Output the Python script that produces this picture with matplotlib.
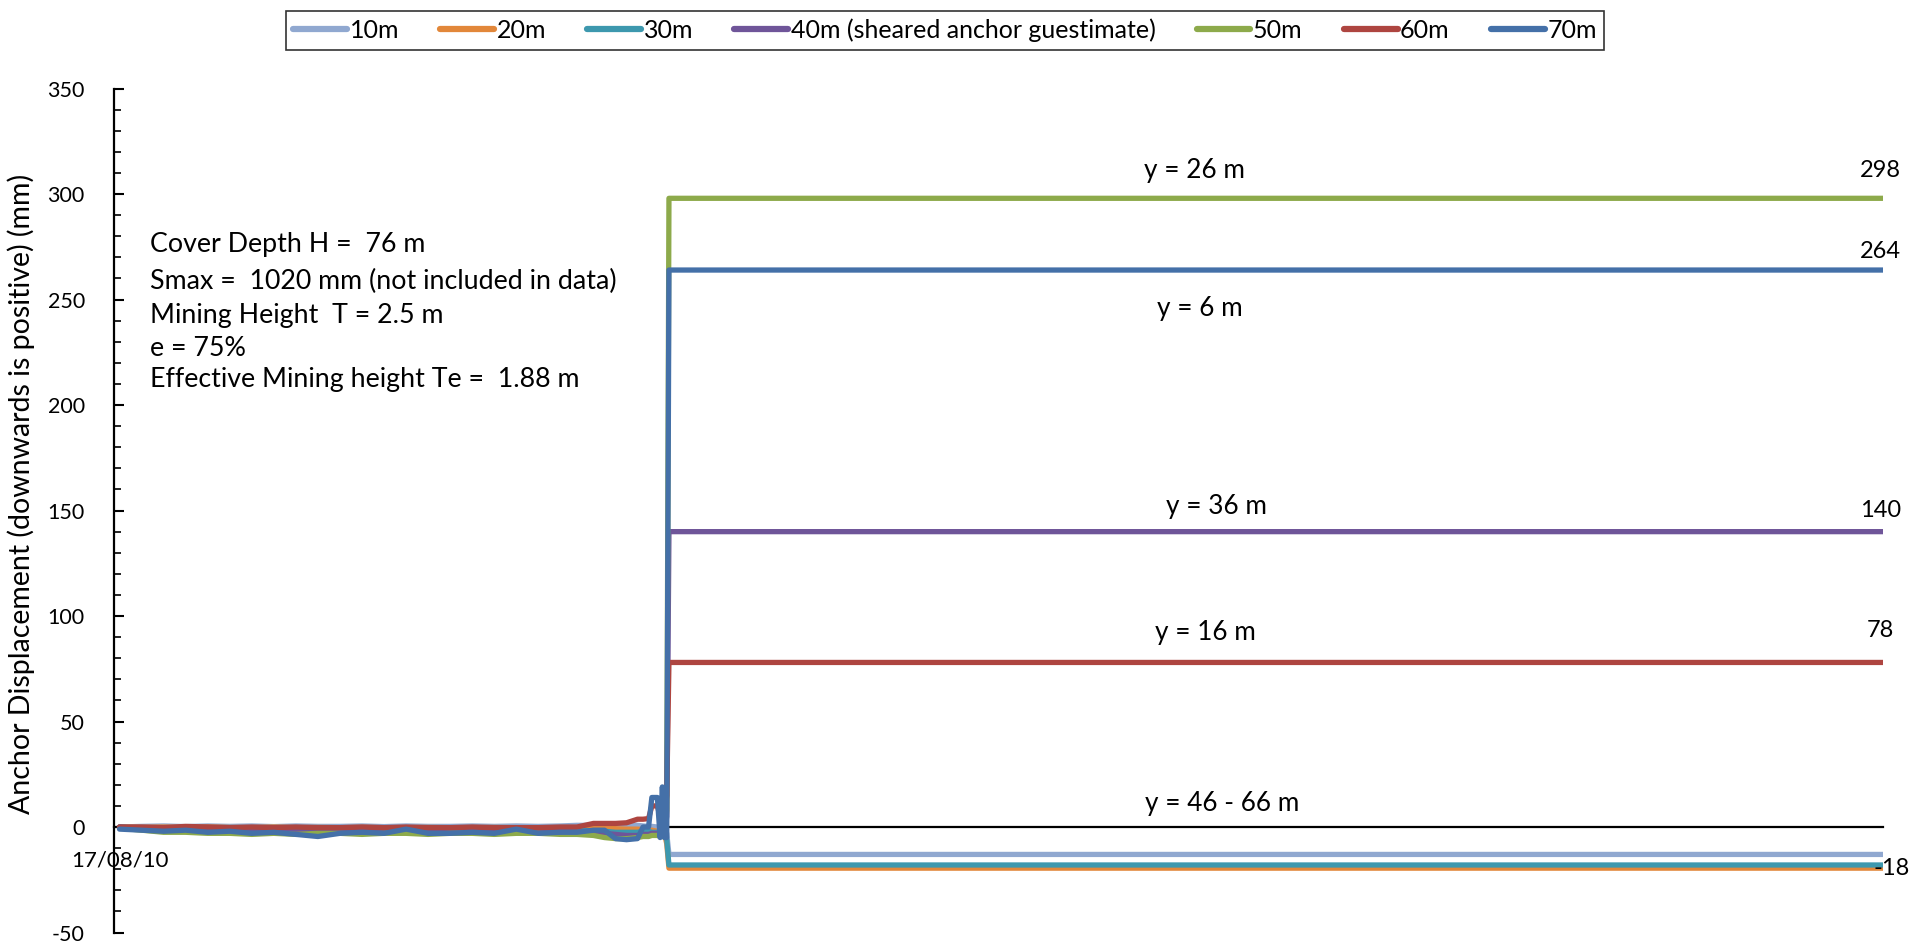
import numpy as np
import matplotlib.pyplot as plt
from matplotlib.ticker import MultipleLocator, FixedLocator

plt.rcParams['font.family'] = ['Lato', 'DejaVu Sans']
plt.rcParams['axes.unicode_minus'] = False

# Ankarförskjutning per djup (mm), dagar från 17/08/10
days_early = [0, 4, 8, 12, 16, 20, 24, 28, 32, 36, 40, 44, 48, 52, 56, 60, 64, 68, 72, 76,
              80, 83, 86, 88, 90, 92, 94, 95, 96, 96.6, 97.6, 98.1, 98.5, 98.9, 99.3]
tail_days = [99.7, 320]

labels = ['10m', '20m', '30m', '40m (sheared anchor guestimate)', '50m', '60m', '70m']
colors = ['#90A8D0', '#E2873A', '#3D98AE', '#6F5599', '#8DAA4B', '#AE4540', '#4470A8']

s10 = [0, 0.3, 0.5, 0.2, 0.5, 0.3, 0.5, 0.2, 0.5, 0.3, 0.3, 0.5, 0.2, 0.5, 0.3, 0.3, 0.5, 0.3, 0.5, 0.3,
       0.5, 0.8, 0.8, 1.0, 0.8, 1.0, 0.8, 0.5, 0.3, 0.3, 0, 0, 0, -1, -3]
s20 = [0, -0.2, 0, -0.3, 0, -0.2, -0.3, 0, -0.3, -0.2, -0.3, -0.2, -0.3, -0.3, -0.2, -0.3, -0.3, -0.2, -0.3, -0.3,
       -0.5, -0.5, -0.3, -0.5, -0.8, -1, -1, -1.2, -1.5, -1.5, -2, -2, -2, -3, -8]
s30 = [0, -0.5, -0.8, -0.5, -1, -0.8, -1, -1.2, -1, -1.2, -1, -1.2, -1, -1.2, -1.2, -1, -1.2, -1.2, -1, -1.2,
       -1.5, -1.5, -1.8, -2, -2.5, -2.5, -2.5, -2, -2, -2.5, -2.5, -3, -3, -3, -6]
s40 = [0, -0.8, -1, -1.2, -1.5, -1.2, -1.5, -1.8, -1.5, -1.8, -1.5, -1.8, -1.5, -1.5, -1.8, -1.5, -1.8, -1.5, -1.8, -1.8,
       -2, -2.5, -2.5, -3, -3.5, -4, -4, -3.5, -3.5, -3, -3, -3, -2.5, -2, 5]
s50 = [-0.5, -1.5, -2.5, -2.5, -3, -3, -3.5, -3, -3.5, -3, -3, -3.5, -3, -3, -3.5, -3, -3, -3.5, -3, -3,
       -3.5, -3.5, -4, -5, -5.5, -5.5, -5, -4.5, -4.5, -4, -4, -4.5, -4, -5, 8]
s60 = [0, 0, -0.3, 0.3, 0, -0.3, 0, -0.3, 0, -0.3, -0.3, 0, -0.3, 0, -0.3, -0.3, 0, -0.3, -0.3, -0.3,
       0, 0, 1.7, 1.7, 1.7, 2, 3.7, 3.7, 4, 10, 10, 5, 5, 5, 15]
s70 = [-1, -1.5, -2, -1.5, -2.5, -2, -3, -2.5, -3.5, -4.5, -3, -2.5, -3, -1, -3, -3, -2.5, -3, -1, -3,
       -2.5, -2.5, -1.5, -1.5, -5.5, -6, -5.5, 0, 0, 14, 14, -5, 19, -5, -5]
finals = [-13, -19.5, -18, 140, 298, 78, 264]
series = [s10, s20, s30, s40, s50, s60, s70]

# etiketter vid linjernas slut och djupanteckningar
end_labels = [(298, 311), (264, 273), (140, 150), (78, 93)]
depth_notes = [('y = 26 m', 195, 311), ('y = 6 m', 196, 246), ('y = 36 m', 199, 152),
               ('y = 16 m', 197, 92), ('y = 46 - 66 m', 200, 11)]
info_lines = ['Cover Depth H =  76 m', 'Smax =  1020 mm (not included in data)',
              'Mining Height  T = 2.5 m', 'e = 75%', 'Effective Mining height Te =  1.88 m']
info_y = [244, 281, 315, 348, 380]

fig = plt.figure(figsize=(19.3, 9.46), dpi=100)
ax = fig.add_axes([114 / 1930, 1 - 932.5 / 946, (1883 - 114) / 1930, (932.5 - 88.6) / 946])

for lab, col, s, fin in zip(labels, colors, series, finals):
    x = days_early + tail_days
    y = s + [fin, fin]
    ax.plot(x, y, color=col, lw=3.8, label=lab, solid_capstyle='round', solid_joinstyle='round', zorder=3)

ax.set_xlim(-1, 320)
ax.set_ylim(-50, 350)

for sp in ['top', 'right']:
    ax.spines[sp].set_visible(False)
ax.spines['bottom'].set_position(('data', 0))
ax.spines['bottom'].set_linewidth(1.6)
ax.spines['bottom'].set_zorder(1)
ax.spines['left'].set_linewidth(1.6)

ax.yaxis.set_major_locator(MultipleLocator(50))
ax.yaxis.set_minor_locator(MultipleLocator(10))
ax.tick_params(axis='y', which='major', direction='in', length=7, width=1.5, labelsize=15.5, pad=21)
ax.tick_params(axis='y', which='minor', direction='in', length=5, width=1.2)
ax.xaxis.set_major_locator(FixedLocator([0]))
ax.set_xticklabels(['17/08/10'])
ax.tick_params(axis='x', length=0, labelsize=16, pad=17)

ax.set_ylabel('Anchor Displacement (downwards is positive) (mm)', fontsize=20.5)
ax.yaxis.set_label_coords((35 - 114) / 1769, 0.52)

for val, ypos in end_labels:
    ax.text(319.5, ypos, str(val), ha='center', va='center', fontsize=17)
ax.text(321.5, -19.5, '-18', ha='center', va='center', fontsize=17)

for txt, xp, yp in depth_notes:
    ax.text(xp, yp, txt, ha='center', va='center', fontsize=18.8)

for line, yp in zip(info_lines, info_y):
    fig.text(150 / 1930, 1 - yp / 946, line, ha='left', va='center', fontsize=19.3)

leg = fig.legend(loc='upper center', bbox_to_anchor=(945 / 1930, 1 - 11 / 946), ncol=7,
                 fontsize=18, frameon=True, fancybox=False, handlelength=2.15, handletextpad=0.1,
                 columnspacing=1.65, borderpad=0.3, borderaxespad=0)
leg.get_frame().set_edgecolor('black')
leg.get_frame().set_linewidth(1.2)
for h in leg.get_lines():
    h.set_linewidth(4.5)

fig.savefig('out.png', dpi=100)
